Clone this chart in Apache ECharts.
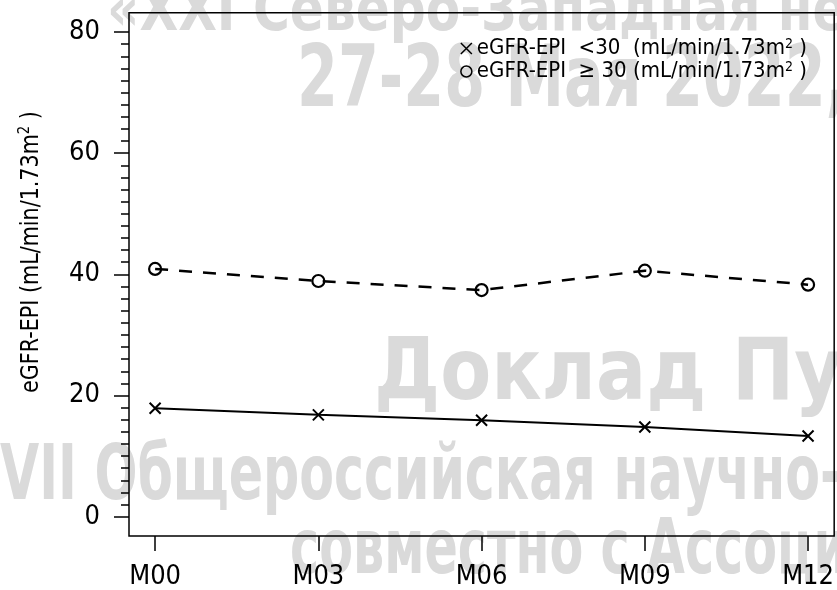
<!DOCTYPE html>
<html>
<head>
<meta charset="utf-8">
<script src="https://cdn.jsdelivr.net/npm/echarts@6/dist/echarts.min.js"></script>
<style>
html,body{margin:0;padding:0;background:#fff;}
#chart{width:837px;height:590px;}
</style>
</head>
<body>
<div id="chart"></div>
<script>
// ---- data ----
var categories = ['M00', 'M03', 'M06', 'M09', 'M12'];
var months = [0, 3, 6, 9, 12];
var lowGroup = [17.9, 16.8, 15.9, 14.8, 13.3];   // eGFR-EPI < 30
var highGroup = [40.9, 38.9, 37.4, 40.6, 38.3];  // eGFR-EPI >= 30
var yTickValues = [0, 20, 40, 60, 80];
var seriesNames = ['eGFR-EPI <30', 'eGFR-EPI \u226530'];
var watermarkLines = [
  '\u00abXXI \u0421\u0435\u0432\u0435\u0440\u043e-\u0417\u0430\u043f\u0430\u0434\u043d\u0430\u044f \u043d\u0435',
  '27-28 \u041c\u0430\u044f 2022,',
  '\u0414\u043e\u043a\u043b\u0430\u0434 \u041f\u0443',
  'VII \u041e\u0431\u0449\u0435\u0440\u043e\u0441\u0441\u0438\u0439\u0441\u043a\u0430\u044f \u043d\u0430\u0443\u0447\u043d\u043e-\u043f',
  '\u0441\u043e\u0432\u043c\u0435\u0441\u0442\u043d\u043e \u0441 \u0410\u0441\u0441\u043e\u0446\u0438'
];

var FONT = "'DejaVu Sans Condensed', 'Liberation Sans', sans-serif";
var WM = "'DejaVu Sans Condensed', 'DejaVu Sans', sans-serif";

var minorTicks = [];
for (var v = 0; v <= 80; v += 2) minorTicks.push(v);

function pairs(vals) {
  return vals.map(function (val, i) { return [months[i], val]; });
}

var crossPath = 'path://M0,0L10,10M10,0L0,10';
var wmColor = '#dadada';

// watermark placement (x, y top, font size, horizontal squeeze)
var wmLayout = [
  [107, -17, 62, 0.9],
  [297, 41, 86, 0.76],
  [374, 334, 86, 0.96],
  [0, 441, 76, 0.74],
  [290, 515, 76, 0.72]
];

var graphics = watermarkLines.map(function (t, i) {
  var L = wmLayout[i];
  return {
    type: 'text', z: -10, x: L[0], y: L[1], scaleX: L[3], silent: true,
    style: {text: t, x: 0, y: 0, align: 'left', verticalAlign: 'top', fill: wmColor, font: 'bold ' + L[2] + 'px ' + WM}
  };
});
graphics.push({
  type: 'text', z: 10, x: 31, y: 252, rotation: Math.PI / 2, scaleX: 0.92,
  style: {
    text: 'eGFR-EPI (mL/min/1.73m{sup|2} )', x: 0, y: 0, fill: '#000', font: '25px ' + FONT,
    align: 'center', verticalAlign: 'middle',
    rich: {sup: {fontSize: 16, fontFamily: FONT, verticalAlign: 'top', padding: [0, 0, 12, 0]}}
  }
});

var chart = echarts.init(document.getElementById('chart'), null, {renderer: 'canvas'});

var option = {
  backgroundColor: '#fff',
  animation: false,
  graphic: graphics,
  grid: {left: 129, top: 12.7, right: 2.7, bottom: 53.3, show: true, borderColor: '#000', borderWidth: 1.5, backgroundColor: 'transparent'},
  legend: {
    right: 25, top: 32, orient: 'vertical', itemGap: 0, itemWidth: 11, itemHeight: 11,
    data: [
      {name: seriesNames[0], icon: crossPath, itemStyle: {color: 'transparent', borderColor: '#000', borderWidth: 1.5}},
      {name: seriesNames[1], icon: 'circle', itemStyle: {color: 'transparent', borderColor: '#000', borderWidth: 1.5}}
    ],
    formatter: function (name) {
      if (name === seriesNames[0]) return 'eGFR-EPI  <30  (mL/min/1.73m{sup|2} )';
      return 'eGFR-EPI  \u2265 30 (mL/min/1.73m{sup|2} )';
    },
    textStyle: {
      fontSize: 22, fontFamily: FONT, color: '#000', lineHeight: 23,
      rich: {sup: {fontSize: 14, fontFamily: FONT, color: '#000', verticalAlign: 'top', lineHeight: 14, padding: [0, 0, 8, 0]}}
    }
  },
  xAxis: {
    type: 'value', min: -0.48, max: 12.48,
    axisLine: {show: false, onZero: false},
    splitLine: {show: false},
    axisTick: {show: true, inside: false, length: 15, customValues: months, lineStyle: {color: '#000', width: 1.5}},
    axisLabel: {
      customValues: months, margin: 27, color: '#000', fontSize: 27, fontFamily: FONT,
      formatter: function (val) { return categories[months.indexOf(Math.round(val))] || ''; }
    }
  },
  yAxis: [
    {
      type: 'value', min: -3.2, max: 83.2,
      axisLine: {show: false, onZero: false},
      splitLine: {show: false},
      axisTick: {show: true, inside: false, length: 15, customValues: yTickValues, lineStyle: {color: '#000', width: 1.5}},
      axisLabel: {customValues: yTickValues, margin: 29, color: '#000', fontSize: 27, fontFamily: FONT}
    },
    {
      type: 'value', min: -3.2, max: 83.2, position: 'left', offset: 0,
      axisLine: {show: false, onZero: false},
      splitLine: {show: false},
      axisTick: {show: true, inside: false, length: 8, customValues: minorTicks, lineStyle: {color: '#000', width: 1.5}},
      axisLabel: {show: false}
    }
  ],
  series: [
    {
      name: seriesNames[0], type: 'line', data: pairs(lowGroup),
      symbol: crossPath, symbolSize: 11, showSymbol: true,
      lineStyle: {color: '#000', width: 2},
      itemStyle: {color: 'transparent', borderColor: '#000', borderWidth: 2}
    },
    {
      name: seriesNames[1], type: 'line', data: pairs(highGroup),
      symbol: 'circle', symbolSize: 12, showSymbol: true,
      lineStyle: {color: '#000', width: 2.5, type: [13, 11]},
      itemStyle: {color: 'transparent', borderColor: '#000', borderWidth: 2.2}
    }
  ]
};
chart.setOption(option);
</script>
</body>
</html>
